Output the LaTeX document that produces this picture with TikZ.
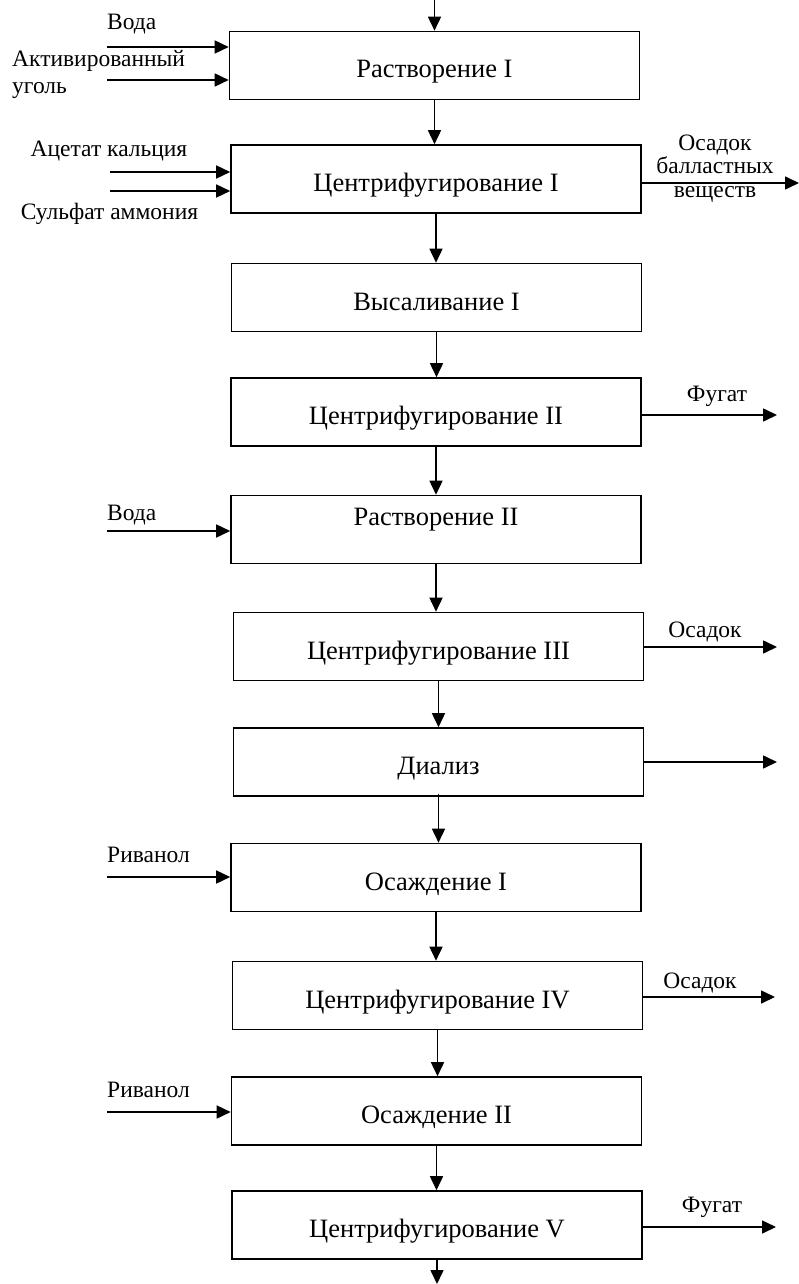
\documentclass[tikz,border=0pt]{standalone}
\usepackage{fontspec}
\setmainfont{Liberation Serif}
\usetikzlibrary{arrows.meta}
\begin{document}
\begin{tikzpicture}[x=1pt,y=-1pt,
  every node/.style={inner sep=0pt},
  stage/.style={draw, line width=1.6pt, minimum width=410pt, minimum height=68pt,
    font=\fontsize{26.5}{28}\selectfont, text height=30pt, text depth=5pt},
  stagehigh/.style={stage, text height=17pt, text depth=25pt},
  flow/.style={line width=1.6pt, -{Triangle[length=14pt,width=13pt]}},
  lbl/.style={font=\fontsize{23.5}{25}\selectfont, anchor=base},
  lbll/.style={lbl, anchor=base west}
]
\useasboundingbox (0,0) rectangle (799,1284);

% process stages
\node[stage] (b1)  at (434.5,65.5)  {Растворение I};
\node[stage] (b2)  at (436,179)     {Центрифугирование I};
\node[stage] (b3)  at (436.5,297.5) {Высаливание I};
\node[stage] (b4)  at (436,412)     {Центрифугирование II};
\node[stagehigh] (b5)  at (436,529.5) {Растворение II};
\node[stage] (b6)  at (438.5,646.5) {Центрифугирование III};
\node[stage] (b7)  at (438.5,762)   {Диализ};
\node[stage] (b8)  at (436,877.5)   {Осаждение I};
\node[stage] (b9)  at (437.5,995.5) {Центрифугирование IV};
\node[stage] (b10) at (436.5,1111)  {Осаждение II};
\node[stage] (b11) at (437,1225)    {Центрифугирование V};

% main line
\coordinate (top) at (434.5,0);
\coordinate (bot) at (437,1284);
\draw[flow] (top) -- (b1.north);
\draw[flow] (b1.south) -- (b1.south |- b2.north);
\draw[flow] (b2.south) -- (b2.south |- b3.north);
\draw[flow] (b3.south) -- (b3.south |- b4.north);
\draw[flow] (b4.south) -- (b4.south |- b5.north);
\draw[flow] (b5.south) -- (b5.south |- b6.north);
\draw[flow] (b6.south) -- (b6.south |- b7.north);
\draw[flow] ([yshift=3pt]b7.south) -- (b7.south |- b8.north);
\draw[flow] (b8.south) -- (b8.south |- b9.north);
\draw[flow] (b9.south) -- (b9.south |- b10.north);
\draw[flow] (b10.south) -- (b10.south |- b11.north);
\draw[flow] (b11.south) -- (bot);

% feeds
\coordinate (i1) at (107,47);
\coordinate (i2) at (107,80);
\coordinate (i3) at (110,172);
\coordinate (i4) at (110,191);
\coordinate (i5) at (107,531);
\coordinate (i6) at (107,877);
\coordinate (i7) at (107,1112);
\draw[flow] (i1) -- (i1 -| b1.west);
\draw[flow] (i2) -- (i2 -| b1.west);
\draw[flow] (i3) -- (i3 -| b2.west);
\draw[flow] (i4) -- (i4 -| b2.west);
\draw[flow] (i5) -- (i5 -| b5.west);
\draw[flow] (i6) -- (i6 -| b8.west);
\draw[flow] (i7) -- (i7 -| b10.west);

\node[lbll] (t1) at (107,30) {Вода};
\node[lbll] (t2) at (12,67) {Активированный};
\node[lbll] (t3) at (12,94) {уголь};
\node[lbl]  (t4) at (109,157) {Ацетат кальция};
\node[lbl]  (t5) at (109.5,219) {Сульфат аммония};
\node[lbll] (t6) at (107,520) {Вода};
\node[lbll] (t7) at (107,862) {Риванол};
\node[lbll] (t8) at (107,1097) {Риванол};

% outputs
\coordinate (o1) at (799,183);
\coordinate (o2) at (777,415);
\coordinate (o3) at (777,647);
\coordinate (o4) at (777,762);
\coordinate (o5) at (775,997);
\coordinate (o6) at (776,1227);
\draw[flow] (o1 -| b2.east) -- (o1);
\draw[flow] (o2 -| b4.east) -- (o2);
\draw[flow] (o3 -| b6.east) -- (o3);
\draw[flow] (o4 -| b7.east) -- (o4);
\draw[flow] (o5 -| b9.east) -- (o5);
\draw[flow] (o6 -| b11.east) -- (o6);

\node[lbl] (u1) at (715,150.5) {Осадок};
\node[lbl] (u2) at (715,174) {балластных};
\node[lbl] (u3) at (715,197) {веществ};
\node[lbl] (u4) at (717,401) {Фугат};
\node[lbl] (u5) at (705,637) {Осадок};
\node[lbl] (u6) at (700,988) {Осадок};
\node[lbl] (u7) at (712,1212) {Фугат};
\end{tikzpicture}
\end{document}
